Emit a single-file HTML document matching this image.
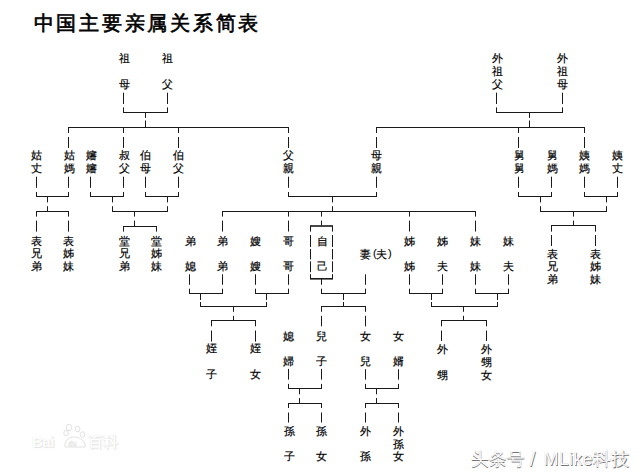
<!DOCTYPE html>
<html><head><meta charset="utf-8"><style>
html,body{margin:0;padding:0;background:#fff;}
body{width:640px;height:475px;position:relative;overflow:hidden;font-family:"Liberation Sans",sans-serif;color:#000;}
.t{position:absolute;left:33.6px;top:12.6px;font-size:20px;line-height:20px;font-weight:normal;-webkit-text-stroke:0.65px #000;letter-spacing:2.75px;white-space:nowrap;color:#000}
.g span{position:absolute;font-size:11px;line-height:11px;white-space:nowrap;-webkit-text-stroke:0.2px #000}
svg{position:absolute;left:0;top:0}
.wm{position:absolute;font-size:18px;line-height:20px;color:#fdfdfd;white-space:nowrap;text-shadow:0.7px 0.7px 0.6px #777,0 0 0.6px #aaa}
.bd{position:absolute;font-weight:bold;color:#fff;white-space:nowrap;text-shadow:0 0 1px #d8d8d8,1px 1px 1px #e4e4e4}
</style></head><body>
<div class="t">中国主要亲属关系简表</div>
<svg width="640" height="475" fill="#1a1a1a"><rect x="123" y="112" width="45" height="1"/><rect x="496" y="112" width="67" height="1"/><rect x="68" y="127" width="221" height="1"/><rect x="376" y="127" width="209" height="1"/><rect x="36" y="196" width="33" height="1"/><rect x="90" y="196" width="34" height="1"/><rect x="145" y="196" width="34" height="1"/><rect x="288" y="196" width="89" height="1"/><rect x="518" y="196" width="34" height="1"/><rect x="584" y="196" width="34" height="1"/><rect x="36" y="211" width="33" height="1"/><rect x="112" y="211" width="56" height="1"/><rect x="123" y="226" width="34" height="1"/><rect x="222" y="211" width="254" height="1"/><rect x="310" y="225.2" width="23" height="1.6"/><rect x="310" y="278" width="23" height="1.6"/><rect x="540" y="211" width="67" height="1"/><rect x="551" y="225" width="45" height="1"/><rect x="189" y="293" width="34" height="1"/><rect x="255" y="293" width="34" height="1"/><rect x="409" y="293" width="34" height="1"/><rect x="475" y="293" width="34" height="1"/><rect x="321" y="293" width="45" height="1"/><rect x="200" y="306" width="67" height="1"/><rect x="211" y="320" width="45" height="1"/><rect x="321" y="306" width="45" height="1"/><rect x="431" y="306" width="67" height="1"/><rect x="441" y="320" width="46" height="1"/><rect x="288" y="388" width="34" height="1"/><rect x="365" y="388" width="34" height="1"/><rect x="288" y="403" width="34" height="1"/><rect x="365" y="403" width="34" height="1"/><rect x="123" y="92.7" width="1" height="11.3"/><rect x="123" y="107.4" width="1" height="4.6"/><rect x="167" y="92.7" width="1" height="11.3"/><rect x="167" y="107.4" width="1" height="4.6"/><rect x="145" y="112.0" width="1" height="5.9"/><rect x="145" y="120.5" width="1" height="6.5"/><rect x="496" y="92.7" width="1" height="11.3"/><rect x="496" y="107.4" width="1" height="4.6"/><rect x="562" y="92.7" width="1" height="11.3"/><rect x="562" y="107.4" width="1" height="4.6"/><rect x="529" y="112.0" width="1" height="5.9"/><rect x="529" y="120.5" width="1" height="6.5"/><rect x="68" y="127.0" width="1" height="6.0"/><rect x="68" y="137.0" width="1" height="11.0"/><rect x="123" y="127.0" width="1" height="6.0"/><rect x="123" y="137.0" width="1" height="11.0"/><rect x="178" y="127.0" width="1" height="6.0"/><rect x="178" y="137.0" width="1" height="11.0"/><rect x="288" y="127.0" width="1" height="6.0"/><rect x="288" y="137.0" width="1" height="11.0"/><rect x="376" y="127.0" width="1" height="6.0"/><rect x="376" y="137.0" width="1" height="11.0"/><rect x="518" y="127.0" width="1" height="6.0"/><rect x="518" y="137.0" width="1" height="11.0"/><rect x="584" y="127.0" width="1" height="6.0"/><rect x="584" y="137.0" width="1" height="11.0"/><rect x="36" y="176.7" width="1" height="11.1"/><rect x="36" y="192.0" width="1" height="4.0"/><rect x="68" y="176.7" width="1" height="11.1"/><rect x="68" y="192.0" width="1" height="4.0"/><rect x="47" y="196.0" width="1" height="6.4"/><rect x="47" y="206.2" width="1" height="4.8"/><rect x="90" y="176.7" width="1" height="11.1"/><rect x="90" y="192.0" width="1" height="4.0"/><rect x="123" y="176.7" width="1" height="11.1"/><rect x="123" y="192.0" width="1" height="4.0"/><rect x="112" y="196.0" width="1" height="6.4"/><rect x="112" y="206.2" width="1" height="4.8"/><rect x="145" y="176.7" width="1" height="11.1"/><rect x="145" y="192.0" width="1" height="4.0"/><rect x="178" y="176.7" width="1" height="11.1"/><rect x="178" y="192.0" width="1" height="4.0"/><rect x="167" y="196.0" width="1" height="6.4"/><rect x="167" y="206.2" width="1" height="4.8"/><rect x="288" y="176.7" width="1" height="11.1"/><rect x="288" y="192.0" width="1" height="4.0"/><rect x="376" y="176.7" width="1" height="11.1"/><rect x="376" y="192.0" width="1" height="4.0"/><rect x="332" y="196.0" width="1" height="6.4"/><rect x="332" y="206.2" width="1" height="4.8"/><rect x="518" y="176.7" width="1" height="11.1"/><rect x="518" y="192.0" width="1" height="4.0"/><rect x="551" y="176.7" width="1" height="11.1"/><rect x="551" y="192.0" width="1" height="4.0"/><rect x="540" y="196.0" width="1" height="6.4"/><rect x="540" y="206.2" width="1" height="4.8"/><rect x="584" y="176.7" width="1" height="11.1"/><rect x="584" y="192.0" width="1" height="4.0"/><rect x="617" y="176.7" width="1" height="11.1"/><rect x="617" y="192.0" width="1" height="4.0"/><rect x="606" y="196.0" width="1" height="6.4"/><rect x="606" y="206.2" width="1" height="4.8"/><rect x="36" y="211.0" width="1" height="5.6"/><rect x="36" y="220.6" width="1" height="11.0"/><rect x="68" y="211.0" width="1" height="5.6"/><rect x="68" y="220.6" width="1" height="11.0"/><rect x="134" y="211.0" width="1" height="5.6"/><rect x="134" y="220.6" width="1" height="5.4"/><rect x="123" y="226.0" width="1" height="5.6"/><rect x="156" y="226.0" width="1" height="5.6"/><rect x="222" y="211.0" width="1" height="5.6"/><rect x="222" y="220.6" width="1" height="10.9"/><rect x="288" y="211.0" width="1" height="5.6"/><rect x="288" y="220.6" width="1" height="10.9"/><rect x="321" y="211.0" width="1" height="5.6"/><rect x="321" y="220.6" width="1" height="4.9"/><rect x="409" y="211.0" width="1" height="5.6"/><rect x="409" y="220.6" width="1" height="10.9"/><rect x="475" y="211.0" width="1" height="5.6"/><rect x="475" y="220.6" width="1" height="10.9"/><rect x="310" y="226.0" width="1" height="5.6"/><rect x="310" y="235.0" width="1" height="12.0"/><rect x="310" y="249.0" width="1" height="10.4"/><rect x="310" y="261.3" width="1" height="10.9"/><rect x="310" y="274.1" width="1" height="3.9"/><rect x="332" y="226.0" width="1" height="5.6"/><rect x="332" y="235.0" width="1" height="12.0"/><rect x="332" y="249.0" width="1" height="10.4"/><rect x="332" y="261.3" width="1" height="10.9"/><rect x="332" y="274.1" width="1" height="3.9"/><rect x="573" y="211.0" width="1" height="5.6"/><rect x="573" y="220.6" width="1" height="4.4"/><rect x="551" y="226.0" width="1" height="5.6"/><rect x="551" y="235.0" width="1" height="11.0"/><rect x="595" y="226.0" width="1" height="5.6"/><rect x="595" y="235.0" width="1" height="11.0"/><rect x="189" y="274.3" width="1" height="10.5"/><rect x="189" y="288.7" width="1" height="4.3"/><rect x="222" y="274.3" width="1" height="10.5"/><rect x="222" y="288.7" width="1" height="4.3"/><rect x="200" y="293.0" width="1" height="7.0"/><rect x="200" y="302.0" width="1" height="4.0"/><rect x="255" y="274.3" width="1" height="10.5"/><rect x="255" y="288.7" width="1" height="4.3"/><rect x="288" y="274.3" width="1" height="10.5"/><rect x="288" y="288.7" width="1" height="4.3"/><rect x="266" y="293.0" width="1" height="7.0"/><rect x="266" y="302.0" width="1" height="4.0"/><rect x="409" y="274.3" width="1" height="10.5"/><rect x="409" y="288.7" width="1" height="4.3"/><rect x="442" y="274.3" width="1" height="10.5"/><rect x="442" y="288.7" width="1" height="4.3"/><rect x="431" y="293.0" width="1" height="7.0"/><rect x="431" y="302.0" width="1" height="4.0"/><rect x="475" y="274.3" width="1" height="10.5"/><rect x="475" y="288.7" width="1" height="4.3"/><rect x="508" y="274.3" width="1" height="10.5"/><rect x="508" y="288.7" width="1" height="4.3"/><rect x="497" y="293.0" width="1" height="7.0"/><rect x="497" y="302.0" width="1" height="4.0"/><rect x="321" y="278.0" width="1" height="6.8"/><rect x="321" y="288.7" width="1" height="4.3"/><rect x="365" y="274.3" width="1" height="10.5"/><rect x="365" y="288.7" width="1" height="4.3"/><rect x="343" y="293.0" width="1" height="7.0"/><rect x="343" y="302.0" width="1" height="4.0"/><rect x="233" y="306.0" width="1" height="5.8"/><rect x="233" y="315.8" width="1" height="4.2"/><rect x="211" y="320.0" width="1" height="6.3"/><rect x="211" y="330.5" width="1" height="11.1"/><rect x="255" y="320.0" width="1" height="6.3"/><rect x="255" y="330.5" width="1" height="11.1"/><rect x="321" y="306.0" width="1" height="5.8"/><rect x="321" y="315.8" width="1" height="10.5"/><rect x="365" y="306.0" width="1" height="5.8"/><rect x="365" y="315.8" width="1" height="10.5"/><rect x="463" y="306.0" width="1" height="5.8"/><rect x="463" y="315.8" width="1" height="4.2"/><rect x="441" y="320.0" width="1" height="6.3"/><rect x="441" y="330.5" width="1" height="10.5"/><rect x="486" y="320.0" width="1" height="6.3"/><rect x="486" y="330.5" width="1" height="10.5"/><rect x="288" y="368.9" width="1" height="10.7"/><rect x="288" y="383.9" width="1" height="4.1"/><rect x="321" y="368.9" width="1" height="10.7"/><rect x="321" y="383.9" width="1" height="4.1"/><rect x="299" y="388.0" width="1" height="6.3"/><rect x="299" y="398.0" width="1" height="5.0"/><rect x="365" y="369.2" width="1" height="10.4"/><rect x="365" y="383.9" width="1" height="4.1"/><rect x="398" y="369.2" width="1" height="10.4"/><rect x="398" y="383.9" width="1" height="4.1"/><rect x="376" y="388.0" width="1" height="6.3"/><rect x="376" y="398.0" width="1" height="5.0"/><rect x="288" y="403.0" width="1" height="5.0"/><rect x="288" y="412.5" width="1" height="10.0"/><rect x="321" y="403.0" width="1" height="5.0"/><rect x="321" y="412.5" width="1" height="10.0"/><rect x="365" y="403.0" width="1" height="5.0"/><rect x="365" y="412.5" width="1" height="10.0"/><rect x="398" y="403.0" width="1" height="5.0"/><rect x="398" y="412.5" width="1" height="10.0"/></svg>
<div class="g"><span style="left:360px;top:249px">妻</span><span style="left:373px;top:248px;-webkit-text-stroke:0.1px #000">(</span><span style="left:376px;top:249px">夫</span><span style="left:388px;top:248px;-webkit-text-stroke:0.1px #000">)</span><span style="left:119px;top:53px">祖</span><span style="left:119px;top:79px">母</span><span style="left:162px;top:53px">祖</span><span style="left:162px;top:79px">父</span><span style="left:492px;top:53px">外</span><span style="left:492px;top:66px">祖</span><span style="left:492px;top:79px">父</span><span style="left:557px;top:53px">外</span><span style="left:557px;top:66px">祖</span><span style="left:557px;top:79px">母</span><span style="left:31px;top:150px">姑</span><span style="left:31px;top:163px">丈</span><span style="left:64px;top:150px">姑</span><span style="left:64px;top:163px">媽</span><span style="left:86px;top:150px">嬸</span><span style="left:86px;top:163px">嬸</span><span style="left:119px;top:150px">叔</span><span style="left:119px;top:163px">父</span><span style="left:140px;top:150px">伯</span><span style="left:140px;top:163px">母</span><span style="left:173px;top:150px">伯</span><span style="left:173px;top:163px">父</span><span style="left:283px;top:150px">父</span><span style="left:283px;top:163px">親</span><span style="left:371px;top:150px">母</span><span style="left:371px;top:163px">親</span><span style="left:514px;top:150px">舅</span><span style="left:514px;top:163px">舅</span><span style="left:547px;top:150px">舅</span><span style="left:547px;top:163px">媽</span><span style="left:579px;top:150px">姨</span><span style="left:579px;top:163px">媽</span><span style="left:612px;top:150px">姨</span><span style="left:612px;top:163px">丈</span><span style="left:31px;top:236px">表</span><span style="left:31px;top:248px">兄</span><span style="left:31px;top:261px">弟</span><span style="left:63px;top:236px">表</span><span style="left:63px;top:248px">姊</span><span style="left:63px;top:261px">妹</span><span style="left:119px;top:236px">堂</span><span style="left:119px;top:248px">兄</span><span style="left:119px;top:261px">弟</span><span style="left:151px;top:236px">堂</span><span style="left:151px;top:248px">姊</span><span style="left:151px;top:261px">妹</span><span style="left:185px;top:236px">弟</span><span style="left:185px;top:261px">媳</span><span style="left:217px;top:236px">弟</span><span style="left:217px;top:261px">弟</span><span style="left:250px;top:236px">嫂</span><span style="left:250px;top:261px">嫂</span><span style="left:283px;top:236px">哥</span><span style="left:283px;top:261px">哥</span><span style="left:317px;top:236px">自</span><span style="left:317px;top:261px">己</span><span style="left:404px;top:236px">姊</span><span style="left:404px;top:261px">姊</span><span style="left:437px;top:236px">姊</span><span style="left:437px;top:261px">夫</span><span style="left:470px;top:236px">妹</span><span style="left:470px;top:261px">妹</span><span style="left:503px;top:236px">妹</span><span style="left:503px;top:261px">夫</span><span style="left:547px;top:249px">表</span><span style="left:547px;top:261px">兄</span><span style="left:547px;top:274px">弟</span><span style="left:590px;top:249px">表</span><span style="left:590px;top:261px">姊</span><span style="left:590px;top:274px">妹</span><span style="left:206px;top:343px">姪</span><span style="left:206px;top:369px">子</span><span style="left:250px;top:343px">姪</span><span style="left:250px;top:369px">女</span><span style="left:283px;top:331px">媳</span><span style="left:283px;top:356px">婦</span><span style="left:316px;top:331px">兒</span><span style="left:316px;top:356px">子</span><span style="left:360px;top:331px">女</span><span style="left:360px;top:356px">兒</span><span style="left:393px;top:331px">女</span><span style="left:393px;top:356px">婿</span><span style="left:437px;top:344px">外</span><span style="left:437px;top:370px">甥</span><span style="left:481px;top:344px">外</span><span style="left:481px;top:357px">甥</span><span style="left:481px;top:370px">女</span><span style="left:284px;top:426px">孫</span><span style="left:284px;top:451px">子</span><span style="left:316px;top:426px">孫</span><span style="left:316px;top:451px">女</span><span style="left:360px;top:426px">外</span><span style="left:360px;top:451px">孫</span><span style="left:393px;top:426px">外</span><span style="left:393px;top:439px">孫</span><span style="left:393px;top:451px">女</span></div>
<div class="bd" style="left:32px;top:434px;font-size:15px;line-height:16px;letter-spacing:-0.5px">Bai</div>
<svg width="640" height="475" style="position:absolute;left:0;top:0"><g fill="#fff" stroke="#dcdcdc" stroke-width="0.9">
<ellipse cx="69" cy="427.5" rx="2.6" ry="3.2"/><ellipse cx="77.5" cy="429" rx="2.4" ry="2.8"/><ellipse cx="66" cy="433" rx="2.2" ry="2.6"/><ellipse cx="82.5" cy="434.5" rx="2.3" ry="2.7"/>
<path d="M65 447 C64 441 69 437 74.5 437 C80 437 86 441 85 447 Z"/></g>
<text x="68" y="446" font-size="7" font-weight="bold" fill="#fff" stroke="#e2e2e2" stroke-width="0.5" font-family="Liberation Sans">du</text></svg>
<div class="bd" style="left:87.5px;top:433.5px;font-size:14.5px;line-height:16px">百科</div>
<div class="wm" style="left:470.5px;top:448.5px">头条号</div>
<div class="wm" style="left:529.5px;top:447px;font-size:21px;line-height:23px">/</div>
<div class="wm" style="left:543.5px;top:448.5px;letter-spacing:0.25px">MLike科技</div>
</body></html>
